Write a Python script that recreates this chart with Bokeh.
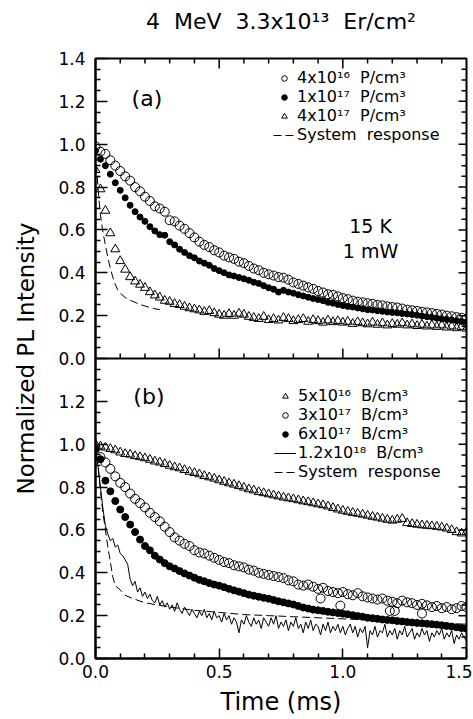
from bokeh.plotting import figure
from bokeh.models import (ColumnDataSource, Span, Legend, LegendItem, FixedTicker,
                          Label, PrintfTickFormatter, Range1d, Title)
from bokeh.transform import dodge
from bokeh.embed import file_html
from bokeh.resources import INLINE

FONT = "DejaVu Sans"
OFFSET_A = 1.4  # panel (a) is stacked on top of panel (b)

# ---------------- data ----------------
T02 = [0.00, 0.02, 0.04, 0.06, 0.08, 0.10, 0.12, 0.14, 0.16, 0.18,
       0.20, 0.22, 0.24, 0.26, 0.28, 0.30, 0.32, 0.34, 0.36, 0.38,
       0.40, 0.42, 0.44, 0.46, 0.48, 0.50, 0.52, 0.54, 0.56, 0.58,
       0.60, 0.62, 0.64, 0.66, 0.68, 0.70, 0.72, 0.74, 0.76, 0.78,
       0.80, 0.82, 0.84, 0.86, 0.88, 0.90, 0.92, 0.94, 0.96, 0.98,
       1.00, 1.02, 1.04, 1.06, 1.08, 1.10, 1.12, 1.14, 1.16, 1.18,
       1.20, 1.22, 1.24, 1.26, 1.28, 1.30, 1.32, 1.34, 1.36, 1.38,
       1.40, 1.42, 1.44, 1.46, 1.48, 1.50]

T01 = [0.00, 0.01, 0.02, 0.03, 0.04, 0.05, 0.06, 0.07, 0.08, 0.09,
       0.10, 0.11, 0.12, 0.13, 0.14, 0.15, 0.16, 0.17, 0.18, 0.19,
       0.20, 0.21, 0.22, 0.23, 0.24, 0.25, 0.26, 0.27, 0.28, 0.29,
       0.30, 0.31, 0.32, 0.33, 0.34, 0.35, 0.36, 0.37, 0.38, 0.39,
       0.40, 0.41, 0.42, 0.43, 0.44, 0.45, 0.46, 0.47, 0.48, 0.49,
       0.50, 0.51, 0.52, 0.53, 0.54, 0.55, 0.56, 0.57, 0.58, 0.59,
       0.60, 0.61, 0.62, 0.63, 0.64, 0.65, 0.66, 0.67, 0.68, 0.69,
       0.70, 0.71, 0.72, 0.73, 0.74, 0.75, 0.76, 0.77, 0.78, 0.79,
       0.80, 0.81, 0.82, 0.83, 0.84, 0.85, 0.86, 0.87, 0.88, 0.89,
       0.90, 0.91, 0.92, 0.93, 0.94, 0.95, 0.96, 0.97, 0.98, 0.99,
       1.00, 1.01, 1.02, 1.03, 1.04, 1.05, 1.06, 1.07, 1.08, 1.09,
       1.10, 1.11, 1.12, 1.13, 1.14, 1.15, 1.16, 1.17, 1.18, 1.19,
       1.20, 1.21, 1.22, 1.23, 1.24, 1.25, 1.26, 1.27, 1.28, 1.29,
       1.30, 1.31, 1.32, 1.33, 1.34, 1.35, 1.36, 1.37, 1.38, 1.39,
       1.40, 1.41, 1.42, 1.43, 1.44, 1.45, 1.46, 1.47, 1.48, 1.49,
       1.50]

# Panel (a): P doped
A_P4E16 = [0.99, 0.965, 0.955, 0.925, 0.90, 0.875, 0.85, 0.83, 0.80, 0.78,
           0.755, 0.735, 0.71, 0.70, 0.685, 0.645, 0.64, 0.62, 0.605, 0.585,
           0.565, 0.545, 0.53, 0.52, 0.505, 0.495, 0.48, 0.472, 0.465, 0.452,
           0.445, 0.432, 0.42, 0.412, 0.40, 0.393, 0.387, 0.38, 0.377, 0.368,
           0.355, 0.348, 0.34, 0.332, 0.325, 0.315, 0.308, 0.30, 0.297, 0.29,
           0.282, 0.277, 0.27, 0.265, 0.262, 0.258, 0.255, 0.25, 0.248, 0.243,
           0.24, 0.238, 0.233, 0.228, 0.225, 0.222, 0.218, 0.215, 0.212, 0.208,
           0.205, 0.2, 0.197, 0.193, 0.19, 0.185]
A_P1E17 = [0.97, 0.93, 0.90, 0.86, 0.82, 0.785, 0.75, 0.715, 0.685, 0.66,
           0.64, 0.615, 0.595, 0.578, 0.575, 0.545, 0.53, 0.51, 0.495, 0.48,
           0.47, 0.455, 0.445, 0.435, 0.42, 0.41, 0.40, 0.39, 0.385, 0.378,
           0.372, 0.365, 0.356, 0.35, 0.34, 0.33, 0.323, 0.31, 0.318, 0.31,
           0.305, 0.298, 0.292, 0.286, 0.28, 0.275, 0.27, 0.262, 0.258, 0.252,
           0.247, 0.243, 0.24, 0.236, 0.232, 0.228, 0.226, 0.223, 0.22, 0.217,
           0.215, 0.213, 0.21, 0.208, 0.205, 0.202, 0.198, 0.195, 0.192, 0.188,
           0.185, 0.182, 0.18, 0.176, 0.173, 0.17]
A_P4E17 = [0.88, 0.79, 0.69, 0.585, 0.51, 0.455, 0.415, 0.38, 0.36, 0.345,
           0.33, 0.31, 0.295, 0.285, 0.27, 0.265, 0.255, 0.25, 0.242, 0.235,
           0.23, 0.225, 0.218, 0.222, 0.212, 0.205, 0.2, 0.208, 0.2, 0.21,
           0.205, 0.195, 0.19, 0.185, 0.195, 0.18, 0.185, 0.178, 0.19, 0.185,
           0.175, 0.18, 0.185, 0.172, 0.18, 0.175, 0.168, 0.178, 0.17, 0.175,
           0.168, 0.172, 0.162, 0.17, 0.165, 0.16, 0.168, 0.158, 0.165, 0.155,
           0.162, 0.158, 0.165, 0.155, 0.16, 0.152, 0.158, 0.15, 0.155, 0.148,
           0.155, 0.145, 0.15, 0.142, 0.148, 0.14]
A_SYS_T = [0.000, 0.005, 0.010, 0.015, 0.020, 0.030, 0.040, 0.050, 0.060, 0.070,
           0.080, 0.090, 0.100, 0.120, 0.140, 0.160, 0.180, 0.200, 0.220, 0.240, 0.260]
A_SYS_V = [0.96, 0.88, 0.80, 0.73, 0.67, 0.59, 0.53, 0.47, 0.42, 0.38,
           0.345, 0.32, 0.305, 0.285, 0.272, 0.262, 0.252, 0.245, 0.238, 0.232, 0.228]

# Panel (b): B doped
B_B5E16 = [1.0, 0.99, 0.985, 0.978, 0.972, 0.962, 0.955, 0.952, 0.945, 0.94,
           0.935, 0.928, 0.92, 0.915, 0.908, 0.90, 0.893, 0.888, 0.88, 0.872,
           0.866, 0.86, 0.852, 0.846, 0.84, 0.832, 0.825, 0.818, 0.812, 0.805,
           0.798, 0.79, 0.785, 0.777, 0.772, 0.767, 0.762, 0.757, 0.752, 0.748,
           0.744, 0.739, 0.734, 0.73, 0.725, 0.72, 0.716, 0.71, 0.703, 0.696,
           0.69, 0.685, 0.68, 0.676, 0.672, 0.667, 0.662, 0.658, 0.653, 0.648,
           0.644, 0.648, 0.652, 0.632, 0.628, 0.625, 0.622, 0.62, 0.618, 0.615,
           0.612, 0.607, 0.60, 0.59, 0.584, 0.59]
B_B3E17 = [0.98, 0.94, 0.915, 0.885, 0.85, 0.82, 0.80, 0.77, 0.745, 0.725,
           0.705, 0.68, 0.66, 0.64, 0.615, 0.59, 0.565, 0.55, 0.535, 0.525,
           0.505, 0.495, 0.49, 0.48, 0.47, 0.46, 0.45, 0.445, 0.435, 0.43,
           0.425, 0.415, 0.41, 0.40, 0.395, 0.39, 0.385, 0.38, 0.375, 0.365,
           0.36, 0.345, 0.34, 0.345, 0.335, 0.325, 0.33, 0.315, 0.31, 0.305,
           0.31, 0.30, 0.295, 0.305, 0.29, 0.285, 0.28, 0.275, 0.28, 0.27,
           0.265, 0.258, 0.27, 0.262, 0.258, 0.25, 0.255, 0.248, 0.24, 0.245,
           0.235, 0.24, 0.23, 0.235, 0.245, 0.24]
B_B3E17_EXTRA_T = [0.91, 0.99, 1.19, 1.21, 1.32]
B_B3E17_EXTRA_V = [0.28, 0.247, 0.222, 0.222, 0.21]
B_B6E17 = [0.98, 0.93, 0.83, 0.78, 0.735, 0.695, 0.66, 0.625, 0.59, 0.555,
           0.525, 0.505, 0.48, 0.462, 0.445, 0.43, 0.42, 0.408, 0.397, 0.387,
           0.377, 0.367, 0.36, 0.352, 0.345, 0.34, 0.333, 0.325, 0.318, 0.312,
           0.305, 0.298, 0.293, 0.288, 0.283, 0.279, 0.273, 0.267, 0.262, 0.257,
           0.252, 0.245, 0.238, 0.233, 0.228, 0.225, 0.222, 0.218, 0.215, 0.212,
           0.209, 0.206, 0.202, 0.198, 0.195, 0.19, 0.188, 0.185, 0.182, 0.18,
           0.178, 0.175, 0.173, 0.17, 0.168, 0.166, 0.164, 0.162, 0.16, 0.158,
           0.155, 0.152, 0.149, 0.146, 0.142, 0.139]
B_B12E18 = [0.97, 0.90, 0.80, 0.70, 0.62, 0.58, 0.55, 0.56, 0.52, 0.53,
            0.49, 0.48, 0.46, 0.44, 0.37, 0.34, 0.36, 0.31, 0.33, 0.29,
            0.31, 0.28, 0.30, 0.27, 0.26, 0.29, 0.25, 0.27, 0.24, 0.26,
            0.23, 0.25, 0.22, 0.26, 0.23, 0.21, 0.24, 0.22, 0.20, 0.23,
            0.21, 0.19, 0.22, 0.20, 0.23, 0.19, 0.21, 0.18, 0.22, 0.19,
            0.20, 0.17, 0.21, 0.18, 0.20, 0.16, 0.19, 0.17, 0.12, 0.18,
            0.16, 0.20, 0.17, 0.15, 0.19, 0.16, 0.18, 0.14, 0.19, 0.17,
            0.15, 0.19, 0.16, 0.20, 0.14, 0.17, 0.15, 0.18, 0.13, 0.17,
            0.15, 0.19, 0.14, 0.16, 0.12, 0.17, 0.14, 0.18, 0.13, 0.16,
            0.15, 0.11, 0.16, 0.13, 0.17, 0.12, 0.15, 0.13, 0.16, 0.12,
            0.15, 0.11, 0.14, 0.16, 0.12, 0.15, 0.10, 0.14, 0.12, 0.15,
            0.05, 0.13, 0.11, 0.15, 0.10, 0.13, 0.12, 0.16, 0.10, 0.13,
            0.11, 0.14, 0.09, 0.13, 0.11, 0.15, 0.10, 0.12, 0.14, 0.09,
            0.12, 0.10, 0.14, 0.11, 0.13, 0.08, 0.12, 0.10, 0.13, 0.11,
            0.14, 0.09, 0.12, 0.10, 0.13, 0.07, 0.11, 0.09, 0.12, 0.10,
            0.08]
B_SYS_T = [0.000, 0.010, 0.020, 0.030, 0.040, 0.050, 0.060, 0.070, 0.080, 0.100,
           0.120, 0.150, 0.200, 0.250, 0.300, 0.400, 0.500, 0.600, 0.700, 0.800,
           0.900, 1.000, 1.100, 1.200, 1.300, 1.400, 1.500]
B_SYS_V = [1.0, 0.9, 0.78, 0.68, 0.6, 0.52, 0.45, 0.38, 0.34, 0.32,
           0.295, 0.28, 0.26, 0.25, 0.24, 0.225, 0.215, 0.205, 0.2, 0.195,
           0.19, 0.185, 0.18, 0.175, 0.17, 0.165, 0.16]

LEGEND_A = ["4x10\u00b9\u2076\u00a0 P/cm\u00b3", "1x10\u00b9\u2077\u00a0 P/cm\u00b3",
            "4x10\u00b9\u2077\u00a0 P/cm\u00b3", "System\u00a0 response"]
LEGEND_B = ["5x10\u00b9\u2076\u00a0 B/cm\u00b3", "3x10\u00b9\u2077\u00a0 B/cm\u00b3",
            "6x10\u00b9\u2077\u00a0 B/cm\u00b3", "1.2x10\u00b9\u2078\u00a0 B/cm\u00b3",
            "System\u00a0 response"]
TITLE = "4\u00a0 MeV\u00a0 3.3x10\u00b9\u00b3\u00a0 Er/cm\u00b2"

X_TICKS = [0.0, 0.5, 1.0, 1.5]
X_MINOR = [0.1, 0.2, 0.3, 0.4, 0.6, 0.7, 0.8, 0.9, 1.1, 1.2, 1.3, 1.4]
Y_TICKS = [0.0, 0.2, 0.4, 0.6, 0.8, 1.0, 1.2, 1.4, 1.6, 1.8, 2.0, 2.2, 2.4, 2.6, 2.8]
Y_TICK_LABELS = ["0.0", "0.2", "0.4", "0.6", "0.8", "1.0", "1.2",
                 "0.0", "0.2", "0.4", "0.6", "0.8", "1.0", "1.2", "1.4"]
Y_MINOR = [0.05, 0.1, 0.15, 0.25, 0.3, 0.35, 0.45, 0.5, 0.55, 0.65, 0.7, 0.75,
           0.85, 0.9, 0.95, 1.05, 1.1, 1.15, 1.25, 1.3, 1.35,
           1.45, 1.5, 1.55, 1.65, 1.7, 1.75, 1.85, 1.9, 1.95, 2.05, 2.1, 2.15,
           2.25, 2.3, 2.35, 2.45, 2.5, 2.55, 2.65, 2.7, 2.75]

# ---------------- figure ----------------
X0, X1, Y0, Y1 = 0.0, 1.5, 0.0, 2.8
FRAME_W, FRAME_H = 371, 600
p = figure(width=472, height=719, x_range=Range1d(X0, X1), y_range=Range1d(Y0, Y1),
           output_backend="svg", toolbar_location=None,
           min_border_left=95, min_border_right=6, min_border_top=58, min_border_bottom=61)
p.grid.visible = False
p.outline_line_color = "black"
p.outline_line_width = 2

# the real title; an empty spacer title (added below) sits between it and the frame
p.title.text = TITLE
p.title.align = "center"
p.title.text_font = FONT
p.title.text_font_size = "22px"
p.title.text_font_style = "normal"
p.title.text_color = "black"
p.title.standoff = 0
p.add_layout(Title(text=" ", text_font_size="8px", standoff=14), "above")

xt = FixedTicker(ticks=X_TICKS, minor_ticks=X_MINOR)
yt = FixedTicker(ticks=Y_TICKS, minor_ticks=Y_MINOR)


def style_axis(ax, major_in):
    ax.axis_line_width = 2
    ax.major_tick_in = major_in
    ax.major_tick_out = 0
    ax.minor_tick_in = 5
    ax.minor_tick_out = 0
    ax.major_tick_line_width = 1.5
    ax.minor_tick_line_width = 1.5
    ax.major_label_text_font = FONT
    ax.major_label_text_color = "black"
    ax.axis_label_text_font = FONT
    ax.axis_label_text_font_style = "normal"
    ax.axis_label_text_color = "black"


xa = p.xaxis[0]
xa.ticker = xt
xa.formatter = PrintfTickFormatter(format="%.1f")
style_axis(xa, 10)
xa.major_label_text_font_size = "17px"
xa.major_label_standoff = 6
xa.axis_label = "Time (ms)"
xa.axis_label_text_font_size = "24px"
xa.axis_label_standoff = 7

ya = p.yaxis[0]
ya.ticker = yt
ya.major_label_overrides = dict(zip(Y_TICKS, Y_TICK_LABELS))
style_axis(ya, 12)
ya.major_label_text_font_size = "17px"
ya.major_label_standoff = 10
ya.axis_label = "Normalized PL Intensity"
ya.axis_label_text_font_size = "23px"
ya.axis_label_standoff = 16

# inward ticks on the top edge, the right edge and the panel divider
px_x = (X1 - X0) / FRAME_W
px_y = (Y1 - Y0) / FRAME_H
xmaj_in = X_TICKS[1:3]
ymaj_in = Y_TICKS[1:-1]
TICK = dict(line_color="black", line_width=1.5)
# top edge
p.segment(x0=xmaj_in, y0=[Y1] * len(xmaj_in), x1=xmaj_in, y1=[Y1 - 10 * px_y] * len(xmaj_in), **TICK)
p.segment(x0=X_MINOR, y0=[Y1] * len(X_MINOR), x1=X_MINOR, y1=[Y1 - 5 * px_y] * len(X_MINOR), **TICK)
# divider
p.add_layout(Span(location=OFFSET_A, dimension="width", line_color="black", line_width=2))
p.segment(x0=xmaj_in, y0=[OFFSET_A] * len(xmaj_in), x1=xmaj_in,
          y1=[OFFSET_A + 10 * px_y] * len(xmaj_in), **TICK)
p.segment(x0=X_MINOR, y0=[OFFSET_A] * len(X_MINOR), x1=X_MINOR,
          y1=[OFFSET_A + 5 * px_y] * len(X_MINOR), **TICK)
# right edge
p.segment(x0=[X1] * len(ymaj_in), y0=ymaj_in, x1=[X1 - 8 * px_x] * len(ymaj_in), y1=ymaj_in, **TICK)
p.segment(x0=[X1] * len(Y_MINOR), y0=Y_MINOR, x1=[X1 - 5 * px_x] * len(Y_MINOR), y1=Y_MINOR, **TICK)

# ---------------- panel (a) ----------------
src_a = ColumnDataSource(dict(t=T02, c1=A_P4E16, c2=A_P1E17, c3=A_P4E17))
src_asys = ColumnDataSource(dict(t=A_SYS_T, v=A_SYS_V))
ra_sys = p.line("t", dodge("v", OFFSET_A), source=src_asys, line_color="black",
                line_width=1, line_dash="8 4")
ra3 = p.scatter("t", dodge("c3", OFFSET_A), source=src_a, marker="triangle", size=9,
                line_color="black", fill_alpha=0, line_width=1)
ra2 = p.scatter("t", dodge("c2", OFFSET_A), source=src_a, marker="circle", size=6,
                line_color="black", fill_color="black")
ra1 = p.scatter("t", dodge("c1", OFFSET_A), source=src_a, marker="circle", size=9,
                line_color="black", fill_alpha=0, line_width=1)

# ---------------- panel (b) ----------------
src_b = ColumnDataSource(dict(t=T02, c1=B_B5E16, c2=B_B3E17, c3=B_B6E17))
src_bx = ColumnDataSource(dict(t=B_B3E17_EXTRA_T, v=B_B3E17_EXTRA_V))
src_bl = ColumnDataSource(dict(t=T01, v=B_B12E18))
src_bsys = ColumnDataSource(dict(t=B_SYS_T, v=B_SYS_V))
rb_sys = p.line("t", "v", source=src_bsys, line_color="black", line_width=1, line_dash="8 4")
rb4 = p.line("t", "v", source=src_bl, line_color="black", line_width=1)
rb3 = p.scatter("t", "c3", source=src_b, marker="circle", size=7,
                line_color="black", fill_color="black")
rb2 = p.scatter("t", "c2", source=src_b, marker="circle", size=9,
                line_color="black", fill_alpha=0, line_width=1)
p.scatter("t", "v", source=src_bx, marker="circle", size=9,
          line_color="black", fill_alpha=0, line_width=1)
rb1 = p.scatter("t", "c1", source=src_b, marker="triangle", size=9,
                line_color="black", fill_alpha=0, line_width=1)


# ---------------- legends & labels ----------------
def style_legend(leg):
    leg.label_text_font = FONT
    leg.label_text_font_size = "16px"
    leg.label_text_color = "black"
    leg.label_height = 14
    leg.glyph_height = 14
    leg.glyph_width = 22
    leg.label_standoff = 2
    leg.spacing = 0
    leg.padding = 0
    leg.margin = 0
    leg.border_line_alpha = 0
    leg.background_fill_alpha = 0


leg_a = Legend(items=[LegendItem(label=LEGEND_A[0], renderers=[ra1]),
                      LegendItem(label=LEGEND_A[1], renderers=[ra2]),
                      LegendItem(label=LEGEND_A[2], renderers=[ra3]),
                      LegendItem(label=LEGEND_A[3], renderers=[ra_sys])],
               location=(178, 514))
style_legend(leg_a)
p.add_layout(leg_a)

leg_b = Legend(items=[LegendItem(label=LEGEND_B[0], renderers=[rb1]),
                      LegendItem(label=LEGEND_B[1], renderers=[rb2]),
                      LegendItem(label=LEGEND_B[2], renderers=[rb3]),
                      LegendItem(label=LEGEND_B[3], renderers=[rb4]),
                      LegendItem(label=LEGEND_B[4], renderers=[rb_sys])],
               location=(179, 177))
style_legend(leg_b)
p.add_layout(leg_b)

for txt, x, y, size, base in [("(a)", 0.208, OFFSET_A + 1.213, "22px", "middle"),
                              ("(b)", 0.216, 1.223, "22px", "middle"),
                              ("15 K", 1.112, OFFSET_A + 0.62, "19px", "alphabetic"),
                              ("1 mW", 1.112, OFFSET_A + 0.503, "19px", "alphabetic")]:
    p.add_layout(Label(x=x, y=y, text=txt, text_align="center", text_baseline=base,
                       text_font=FONT, text_font_size=size, text_color="black"))

open("out.html", "w").write(file_html(p, INLINE))
